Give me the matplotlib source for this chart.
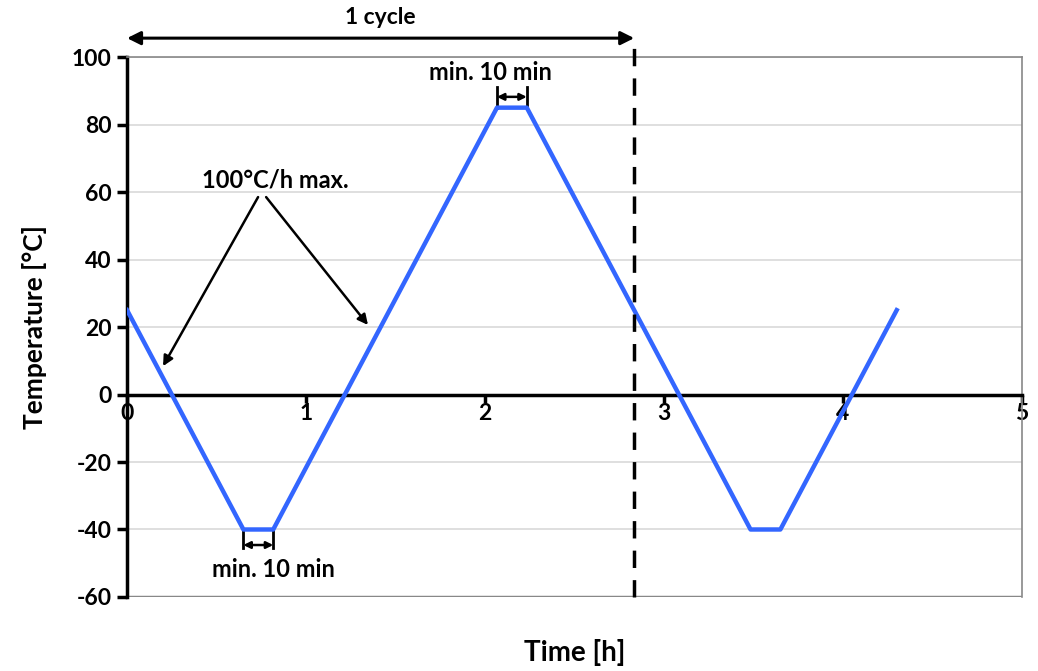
import matplotlib
matplotlib.use('Agg')
import matplotlib.pyplot as plt
import numpy as np

# temperature profile (h, degC)
t = [0, 0.65, 0.8167, 2.0667, 2.2333, 2.8333, 3.4833, 3.65, 4.3]
T = [25, -40, -40, 85, 85, 25, -40, -40, 25]
cycle_end = 2.8333
yticks = [-60, -40, -20, 0, 20, 40, 60, 80, 100]
xticks = [0, 1, 2, 3, 4, 5]

plt.rcParams['font.family'] = ['Lato', 'DejaVu Sans']
plt.rcParams['font.weight'] = 'bold'
plt.rcParams['axes.unicode_minus'] = False

fig = plt.figure(figsize=(10.38, 6.71), dpi=100)
ax = fig.add_axes([0.1224, 0.1103, 0.8622, 0.8047])

ax.set_xlim(0, 5)
ax.set_ylim(-60, 100)
ax.set_yticks(yticks)
ax.set_xticks(xticks)
ax.grid(axis='y', color='#d9d9d9', lw=1.2)
ax.set_axisbelow(True)

ax.spines['bottom'].set_position(('data', 0))
ax.spines['bottom'].set_linewidth(2.5)
ax.spines['left'].set_linewidth(2.5)
for s in ['top', 'right']:
    ax.spines[s].set_color('#888888')
    ax.spines[s].set_linewidth(1.2)
ax.axhline(-60, color='#888888', lw=2.5, zorder=1)

ax.tick_params(axis='y', direction='out', length=7, width=2.5, labelsize=16.5, pad=4)
ax.tick_params(axis='x', direction='out', length=6, width=2.5, labelsize=16.5, pad=0)
for lab in ax.get_xticklabels() + ax.get_yticklabels():
    lab.set_fontweight('bold')

ax.plot(t, T, color='#3366ff', lw=3.2, zorder=3)

# cycle marker
ax.plot([cycle_end, cycle_end], [-60, 105.6], color='black', lw=2.5,
        ls=(0, (5, 3.5)), clip_on=False, zorder=4)
ax.annotate('', xy=(cycle_end, 105.6), xytext=(0, 105.6),
            arrowprops=dict(arrowstyle='<|-|>', color='black', lw=2.2,
                            mutation_scale=20, shrinkA=0, shrinkB=0),
            annotation_clip=False)
ax.text(cycle_end / 2, 108.5, '1 cycle', ha='center', va='bottom',
        fontsize=16.5, fontweight='bold')

# dwell at top
ax.plot([2.0667, 2.0667], [85, 91], color='black', lw=2, clip_on=False)
ax.plot([2.2333, 2.2333], [85, 91], color='black', lw=2, clip_on=False)
ax.annotate('', xy=(2.2333, 88.2), xytext=(2.0667, 88.2),
            arrowprops=dict(arrowstyle='<|-|>', color='black', lw=1.8,
                            mutation_scale=10, shrinkA=0, shrinkB=0))
ax.text(2.03, 95.5, 'min. 10 min', ha='center', va='center',
        fontsize=17, fontweight='bold')

# dwell at bottom
ax.plot([0.65, 0.65], [-40, -45.5], color='black', lw=2)
ax.plot([0.8167, 0.8167], [-40, -45.5], color='black', lw=2)
ax.annotate('', xy=(0.8167, -44.6), xytext=(0.65, -44.6),
            arrowprops=dict(arrowstyle='<|-|>', color='black', lw=1.8,
                            mutation_scale=10, shrinkA=0, shrinkB=0))
ax.text(0.817, -52, 'min. 10 min', ha='center', va='center',
        fontsize=17, fontweight='bold')

# ramp rate
ax.text(0.827, 63.5, '100°C/h max.', ha='center', va='center',
        fontsize=17, fontweight='bold')
ax.annotate('', xy=(0.201, 8.4), xytext=(0.732, 58.5),
            arrowprops=dict(arrowstyle='-|>', color='black', lw=1.8,
                            mutation_scale=15, shrinkA=0, shrinkB=0))
ax.annotate('', xy=(1.346, 20.6), xytext=(0.777, 58.5),
            arrowprops=dict(arrowstyle='-|>', color='black', lw=1.8,
                            mutation_scale=15, shrinkA=0, shrinkB=0))

ax.set_ylabel('Temperature [°C]', fontsize=19, fontweight='bold')
ax.yaxis.set_label_coords(-0.089, 0.5)
fig.text(0.5535, 0.028, 'Time [h]', ha='center', va='center',
         fontsize=20, fontweight='bold')

fig.savefig('out.png', dpi=100)
